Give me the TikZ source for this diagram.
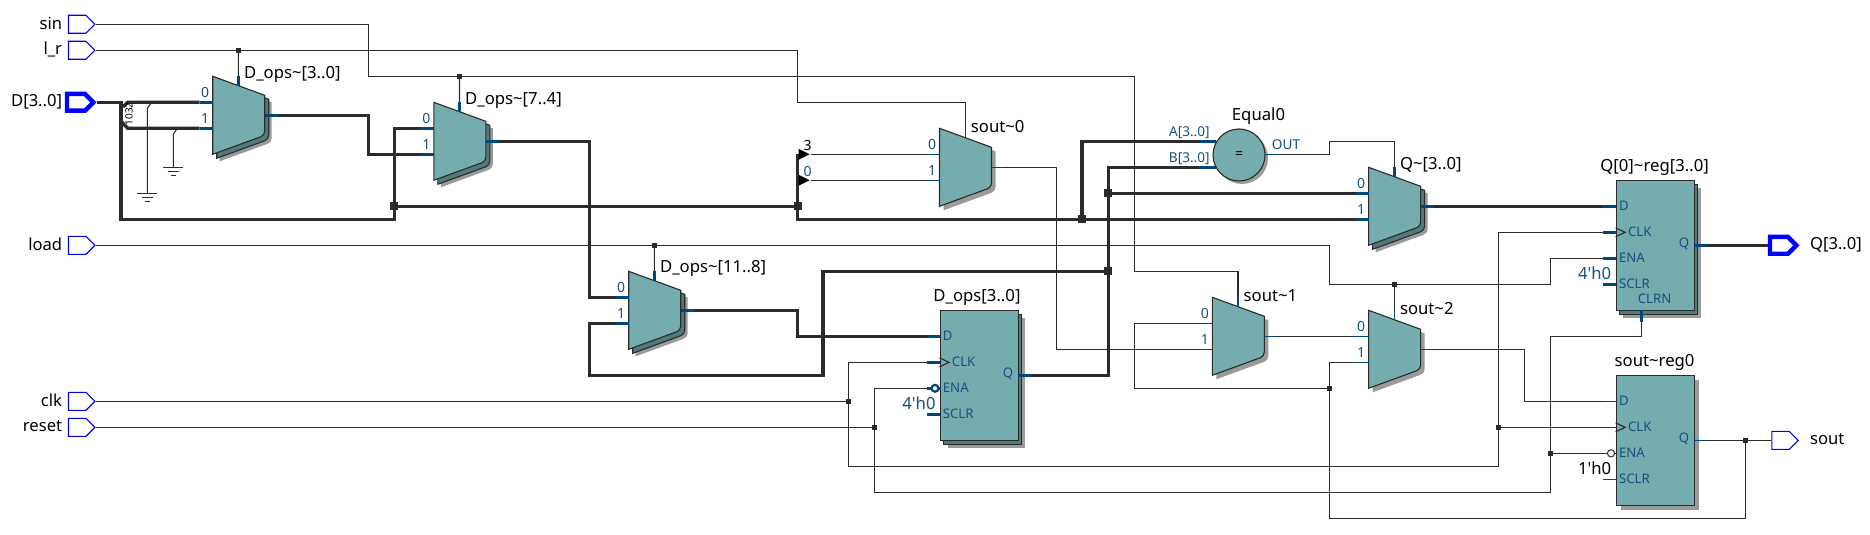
\documentclass[tikz,border=0pt]{standalone}
\usepackage{fontspec}
\setmainfont{Noto Sans}
\usetikzlibrary{calc, shapes, positioning}

\definecolor{bodyteal}{HTML}{75ACAD}
\definecolor{darkteal}{HTML}{4F7B7B}
\definecolor{shadegrey}{HTML}{9A9A9A}
\definecolor{pinblue}{HTML}{00477A}
\definecolor{wirecol}{HTML}{2B2B2B}
\definecolor{textblue}{HTML}{17507F}

\tikzstyle{bitwire} = [draw=wirecol, line width=0.55pt]
\tikzstyle{buswire} = [draw=wirecol, line width=1.7pt]
\tikzstyle{bitpin} = [draw=pinblue, line width=0.55pt]
\tikzstyle{buspin} = [draw=pinblue, line width=1.6pt]
\tikzstyle{outline} = [draw=wirecol, line width=0.55pt, fill=bodyteal]
\tikzstyle{inport} = [signal, signal to=east, signal from=nowhere, draw=blue, line width=0.55pt, minimum width=13.2pt, minimum height=9pt, inner sep=0pt, anchor=east]
\tikzstyle{busport} = [inport, line width=2.2pt, minimum width=13.2pt, minimum height=8.4pt]
\tikzstyle{portlabel} = [font=\fontsize{8.3}{9}\selectfont, inner sep=0pt, text=black]
\tikzstyle{blocklabel} = [font=\fontsize{8.35}{9}\selectfont, inner sep=0pt, text=black]
\tikzstyle{pinlabel} = [font=\fontsize{6.6}{8}\selectfont, inner sep=0pt, text=textblue]
\tikzstyle{smallpinlabel} = [font=\fontsize{6.8}{8}\selectfont, inner sep=0pt, text=textblue]
\tikzstyle{digitlabel} = [font=\fontsize{7}{8}\selectfont, inner sep=0pt, text=textblue]
\tikzstyle{constlabel} = [font=\fontsize{8.35}{9}\selectfont, inner sep=0pt, anchor=east]
\tikzstyle{junction} = [rectangle, fill=wirecol, inner sep=0pt, minimum size=2.6pt]
\tikzstyle{busjunction} = [junction, minimum size=4pt]
\tikzstyle{rippertip} = [isosceles triangle, isosceles triangle stretches, fill=black, inner sep=0pt, minimum width=5.5pt, minimum height=5.5pt]

\def\muxpath{(0,0) -- (52,19) [rounded corners=2pt] -- (52,59) [sharp corners] -- (0,78) -- cycle}

\newcommand{\muxpins}[4]{
        \coordinate (#1-in0) at (-13,26);
        \coordinate (#1-in1) at (-13,52);
        \coordinate (#1-out) at (65,39);
        \coordinate (#1-sel) at (25.7,0);
        \filldraw[outline] \muxpath;
        \draw[#2] (#1-in0) -- (0,26);
        \draw[#2] (#1-in1) -- (0,52);
        \draw[#2] (52,39) -- (#1-out);
        \draw[#2] (#1-sel) -- (25.7,10);
        \node[digitlabel] at (-7.5,16) (#1-dig0) {0};
        \node[digitlabel] at (-7.5,42) (#1-dig1) {1};
        \node[blocklabel, anchor=west] at (31,#4) (#1-label) {#3};
}
\newcommand{\muxbus}[5]{
        \begin{scope}[shift={(#2,#3)}]
        \fill[shadegrey, shift={(7,7)}] \muxpath;
        \filldraw[draw=wirecol, fill=darkteal, line width=0.55pt, shift={(4,4)}] \muxpath;
        \muxpins{#1}{buspin}{#4}{#5}
        \end{scope}
}
\newcommand{\muxbit}[5]{
        \begin{scope}[shift={(#2,#3)}]
        \fill[shadegrey, shift={(4,4)}] \muxpath;
        \muxpins{#1}{bitpin}{#4}{#5}
        \end{scope}
}
\newcommand{\regblock}[4]{
        \begin{scope}[shift={(#2,#3)}]
        \node[outline, anchor=north west, inner sep=0pt, minimum width=39pt, minimum height=65pt] at (0,0) (#1) {};
        \coordinate (#1-d) at (-13,26);
        \coordinate (#1-clk) at (-13,52);
        \coordinate (#1-ena) at (-13,78);
        \coordinate (#1-sclr) at (-13,104);
        \coordinate (#1-q) at (91,65);
        \draw[#4] (#1-d) -- (0,26);
        \draw[#4] (#1-clk) -- (0,52);
        \draw[#4] (#1-ena) -- (0,78);
        \draw[#4] (#1-sclr) -- (0,104);
        \draw[#4] (78,65) -- (#1-q);
        \draw[bitwire] (0,47.5) -- (9.5,52) -- (0,56.5);
        \node[pinlabel, anchor=west] at (3,25) (#1-dtext) {D};
        \node[pinlabel, anchor=west] at (12,51) (#1-clktext) {CLK};
        \node[pinlabel, anchor=west] at (3,77) (#1-enatext) {ENA};
        \node[pinlabel, anchor=west] at (3,103) (#1-sclrtext) {SCLR};
        \node[pinlabel, anchor=east] at (74,64) (#1-qtext) {Q};
        \end{scope}
}
\newcommand{\groundsym}[2]{
        \draw[bitwire] (#1-10,#2) -- (#1+10,#2);
        \draw[bitwire] (#1-5.5,#2+4) -- (#1+5.5,#2+4);
        \draw[bitwire] (#1-2.5,#2+8) -- (#1+2.5,#2+8);
}

\begin{document}
\begin{tikzpicture}[x=0.5pt, y=-0.5pt]

        \useasboundingbox (0, 0) rectangle (1870, 535);

        \node[inport] at (95.7, 24.3) (sin) {};
        \node[inport] at (95.7, 50.3) (lr) {};
        \node[busport] at (96.5, 102.3) (Dport) {};
        \node[inport] at (95.7, 245.3) (load) {};
        \node[inport] at (95.7, 401.3) (clk) {};
        \node[inport] at (95.7, 427.3) (reset) {};
        \node[portlabel, anchor=east] at (62.5, 23.5) (sinLabel) {sin};
        \node[portlabel, anchor=east] at (62.5, 49.5) (lrLabel) {l\_r};
        \node[portlabel, anchor=east] at (62.5, 101.5) (DLabel) {D[3..0]};
        \node[portlabel, anchor=east] at (62.5, 244.5) (loadLabel) {load};
        \node[portlabel, anchor=east] at (62.5, 400.5) (clkLabel) {clk};
        \node[portlabel, anchor=east] at (62.5, 426.5) (resetLabel) {reset};

        \node[busport] at (1799.5, 245.3) (Qport) {};
        \node[inport] at (1799, 440.3) (soutport) {};
        \node[portlabel, anchor=west] at (1809.7, 244.5) (QLabel) {Q[3..0]};
        \node[portlabel, anchor=west] at (1809.7, 439.5) (soutLabel) {sout};

        \muxbus{mux1}{212.7}{76.3}{D\_ops\textasciitilde[3..0]}{-2}
        \muxbus{mux2}{433.8}{102.3}{D\_ops\textasciitilde[7..4]}{-2}
        \muxbus{mux3}{628.7}{271.3}{D\_ops\textasciitilde[11..8]}{-3}
        \muxbus{Qmux}{1368.6}{167.3}{Q\textasciitilde[3..0]}{-2}
        \muxbit{sout0}{939.5}{128.3}{sout\textasciitilde0}{-2}
        \muxbit{sout1}{1212.3}{297.3}{sout\textasciitilde1}{-2}
        \muxbit{sout2}{1368.6}{310.3}{sout\textasciitilde2}{-2}

        \fill[shadegrey] (1623, 188.3) rectangle (1701, 317.5);
        \filldraw[draw=wirecol, fill=darkteal, line width=0.55pt] (1619.6, 184.3) rectangle (1697.6, 314.3);
        \regblock{Qreg}{1615.6}{180.3}{buspin}
        \node[pinlabel] at (1654.6, 299) (QregClrn) {CLRN};
        \coordinate (Qreg-clrn) at (1641.4, 322.3);
        \draw[buspin] (1641.4, 310.3) -- (Qreg-clrn);
        \node[blocklabel] at (1654.6, 167) (QregLabel) {Q[0]\textasciitilde reg[3..0]};
        \node[constlabel, text=textblue] at (1611.6, 273) (QregConst) {4\textquotesingle h0};

        \fill[shadegrey] (947.5, 318.3) rectangle (1025, 447.5);
        \filldraw[draw=wirecol, fill=darkteal, line width=0.55pt] (943.5, 314.3) rectangle (1021.5, 444.3);
        \regblock{dops}{939.5}{310.3}{buspin}
        \node[blocklabel] at (977, 297) (dopsLabel) {D\_ops[3..0]};
        \node[constlabel, text=textblue] at (936, 403) (dopsConst) {4\textquotesingle h0};
        \node[circle, draw=pinblue, line width=1.1pt, fill=white, minimum size=3.4pt, inner sep=0pt] at (935, 388.3) (dopsBubble) {};

        \fill[shadegrey] (1620.6, 380.3) rectangle (1698.6, 510.3);
        \regblock{soutreg}{1615.6}{375.3}{bitpin}
        \node[blocklabel] at (1654.6, 362.7) (soutregLabel) {sout\textasciitilde reg0};
        \node[constlabel] at (1611.6, 468.3) (soutregConst) {1\textquotesingle h0};
        \node[circle, draw=wirecol, line width=0.5pt, fill=white, minimum size=3.6pt, inner sep=0pt] at (1611, 453.3) (soutregBubble) {};

        \fill[shadegrey] (1242, 158) circle (13pt);
        \coordinate (Equal-a) at (1199, 141.3);
        \coordinate (Equal-b) at (1199, 167.3);
        \coordinate (Equal-out) at (1277, 154.3);
        \draw[buspin] (Equal-a) -- (1216, 141.3);
        \draw[buspin] (Equal-b) -- (1216, 167.3);
        \node[circle, outline, minimum size=26pt, inner sep=0pt] at (1239, 155) (Equal) {\fontsize{7}{8}\selectfont =};
        \node[blocklabel] at (1258.5, 116) (EqualLabel) {Equal0};
        \draw[bitpin] (1265, 154.3) -- (Equal-out);
        \node[smallpinlabel, anchor=east] at (1210, 132.7) (EqualA) {A[3..0]};
        \node[smallpinlabel, anchor=east] at (1210, 158.3) (EqualB) {B[3..0]};
        \node[smallpinlabel] at (1286, 145) (EqualOut) {OUT};

        \node[junction] at (238.4, 50.3) (jctLr) {};
        \node[junction] at (459.5, 76.3) (jctSin) {};
        \node[junction] at (654.4, 245.3) (jctLoad) {};
        \node[junction] at (1394.3, 284.3) (jctLoadTwo) {};
        \node[junction] at (848.6, 401.3) (jctClk) {};
        \node[junction] at (1498.3, 427.3) (jctClkTwo) {};
        \node[junction] at (874.3, 427.3) (jctReset) {};
        \node[junction] at (1550.6, 453.3) (jctResetTwo) {};
        \node[junction] at (1329.6, 388.3) (jctFeed) {};
        \node[junction] at (1745.4, 440.3) (jctSout) {};
        \node[busjunction] at (394.2, 206.3) (jctBusA) {};
        \node[busjunction] at (797.5, 206.3) (jctBusB) {};
        \node[busjunction] at (1082, 219.3) (jctBusC) {};
        \node[busjunction] at (1108.3, 271.3) (jctBusD) {};
        \node[busjunction] at (1108.3, 193.3) (jctBusE) {};

        \draw[bitwire] (sin.east) -| (368.5, 76.3) -| (1134.4, 271.3) -| (sout1-sel);
        \draw[bitwire] (jctSin.center) -- (mux2-sel);
        \draw[bitwire] (lr.east) -| (797.5, 102.3) -| (sout0-sel);
        \draw[bitwire] (jctLr.center) -- (mux1-sel);
        \draw[bitwire] (load.east) -| (1329.6, 284.3) -| (1550.6, 258.3) -- (Qreg-ena);
        \draw[bitwire] (jctLoad.center) -- (mux3-sel);
        \draw[bitwire] (jctLoadTwo.center) -- (sout2-sel);
        \draw[bitwire] (clk.east) -- (jctClk.center) |- (dops-clk);
        \draw[bitwire] (jctClk.center) |- (1498.3, 466.3) |- (Qreg-clk);
        \draw[bitwire] (jctClkTwo.center) -- (soutreg-clk);
        \draw[bitwire] (reset.east) -- (jctReset.center) |- (dops-ena);
        \draw[bitwire] (jctReset.center) |- (1550.6, 492.7) |- (1641.4, 336.3) -- (Qreg-clrn);
        \draw[bitwire] (jctResetTwo.center) -- (soutreg-ena);
        \draw[bitwire] (Equal-out) -| (1329.6, 141.3) -| (Qmux-sel);
        \draw[bitwire] (sout0-out) -| (1056.5, 349.3) -- (sout1-in1);
        \draw[bitwire] (sout1-in0) -| (1134.4, 388.3) -- (jctFeed.center);
        \draw[bitwire] (sout1-out) -- (sout2-in0);
        \draw[bitwire] (sout2-in1) -| (1329.6, 518.3) -| (jctSout.center);
        \draw[bitwire] (sout2-out) -| (1524.5, 401.3) -- (soutreg-d);
        \draw[bitwire] (soutreg-q) -- (soutport.west);

        \draw[buswire] (Dport.east) -| (121, 219.3) -| (394.2, 128.3) -- (mux2-in0);
        \draw[buswire] (mux1-in0) -- (127.7, 102.3) -- (123, 107);
        \draw[buswire] (mux1-in1) -- (127.7, 128.3) -- (121.7, 122);
        \draw[buswire] (jctBusA.center) -- (jctBusB.center);
        \draw[buswire] (797.5, 154.3) |- (Qmux-in1);
        \draw[buswire] (jctBusC.center) |- (Equal-a);
        \draw[buswire] (mux1-out) -| (368.5, 154.3) -- (mux2-in1);
        \draw[buswire] (mux2-out) -| (589.2, 297.3) -- (mux3-in0);
        \draw[buswire] (mux3-in1) -| (589.2, 375.3) -| (822.8, 271.3) -- (jctBusD.center);
        \draw[buswire] (mux3-out) -| (797.5, 336.3) -- (dops-d);
        \draw[buswire] (dops-q) -| (jctBusD.center) |- (Equal-b);
        \draw[buswire] (jctBusE.center) -- (Qmux-in0);
        \draw[buswire] (Qmux-out) -- (Qreg-d);
        \draw[buswire] (Qreg-q) -- (Qport.west);

        \node[rippertip] at (802, 154.3) (tipThree) {};
        \node[rippertip] at (802, 180.3) (tipZero) {};
        \draw[bitwire] (tipThree.east) -- (sout0-in0);
        \draw[bitwire] (tipZero.east) -- (sout0-in1);
        \node[digitlabel, text=black] at (807.7, 145.7) (tipThreeText) {3};
        \node[digitlabel] at (807.7, 171.7) (tipZeroText) {0};

        \coordinate (gndA) at (147.3, 193.3);
        \coordinate (gndB) at (173.3, 167.3);
        \draw[bitwire] (151.7, 102.3) -- (147.3, 108.3) -- (gndA);
        \draw[bitwire] (177.3, 128.3) -- (173.3, 134.3) -- (gndB);
        \groundsym{147.3}{193.3}
        \groundsym{173.3}{167.3}

        \node[rotate=90, inner sep=0pt, font=\fontsize{5}{5}\selectfont] at (129, 114) (ripperText) {1032};

\end{tikzpicture}
\end{document}
